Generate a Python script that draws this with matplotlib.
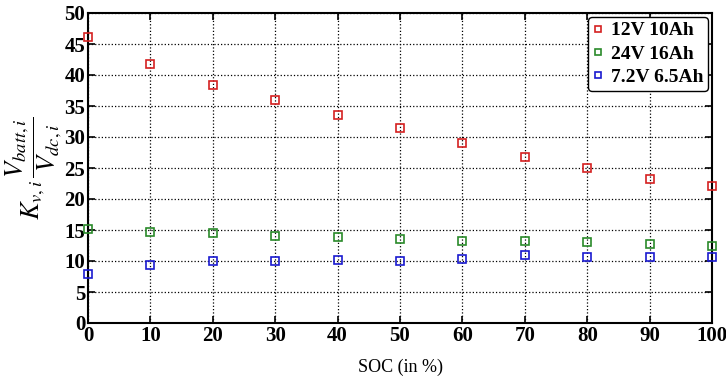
import numpy as np
import matplotlib
matplotlib.use("Agg")
from matplotlib import pyplot as plt

plt.rcParams['font.family'] = ['Liberation Serif', 'DejaVu Serif']
plt.rcParams['mathtext.fontset'] = 'stix'

soc = [0, 10, 20, 30, 40, 50, 60, 70, 80, 90, 100]
batt_12v = [46.2, 41.8, 38.4, 36.0, 33.6, 31.5, 29.0, 26.7, 25.0, 23.3, 22.1]
batt_24v = [15.1, 14.7, 14.5, 14.1, 13.8, 13.5, 13.3, 13.2, 13.0, 12.8, 12.5]
batt_72v = [7.9, 9.4, 10.0, 10.0, 10.1, 10.0, 10.3, 10.9, 10.7, 10.7, 10.6]
labels = ['12V 10Ah', '24V 16Ah', '7.2V 6.5Ah']

fig = plt.figure(figsize=(7.26, 3.81), dpi=100)
ax = fig.add_axes([88/726, 1-323/381, (712-88)/726, (323-13)/381])

ax.plot(soc, batt_12v, 's', ms=6, mfc='none', mec='#d42020', mew=1.2, label=labels[0], clip_on=False, zorder=5)
ax.plot(soc, batt_24v, 's', ms=6, mfc='none', mec='#2a8a2a', mew=1.2, label=labels[1], clip_on=False, zorder=5)
ax.plot(soc, batt_72v, 's', ms=6, mfc='none', mec='#1a1ad0', mew=1.2, label=labels[2], clip_on=False, zorder=5)

ax.set_xlim(0, 100)
ax.set_ylim(0, 50)
ax.set_xticks(range(0, 101, 10))
ax.set_yticks(range(0, 51, 5))
ax.grid(True, ls=':', color='k', lw=0.9)
ax.tick_params(direction='in', top=True, right=True, length=5, width=1.2, labelsize=15, pad=2)
for t in ax.get_xticklabels() + ax.get_yticklabels():
    t.set_fontweight('bold')
for s in ax.spines.values():
    s.set_linewidth(1.5)

ax.set_xlabel('SOC (in %)', fontsize=13, labelpad=9)
ax.set_ylabel(r'$K_{v,i}\,\dfrac{V_{batt,i}}{V_{dc,i}}$', fontsize=19, labelpad=0)

leg = ax.legend(loc='upper right', prop={'weight': 'bold', 'size': 14},
                handlelength=0.5, handletextpad=0.4, borderpad=0.25, labelspacing=0.3,
                markerscale=0.8, fancybox=True, framealpha=1, edgecolor='k', borderaxespad=0.2)
leg.get_frame().set_linewidth(1.0)
leg.set_zorder(10)

fig.savefig('out.png', dpi=100)
